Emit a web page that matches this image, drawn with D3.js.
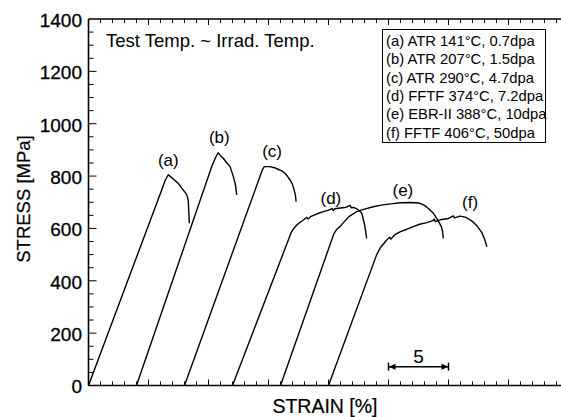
<!DOCTYPE html>
<html><head><meta charset="utf-8">
<script src="https://cdn.jsdelivr.net/npm/d3@7"></script>
<style>body{margin:0;background:#fff}svg{display:block}text{font-family:"Liberation Sans",Arial,Helvetica,sans-serif;fill:#000}</style>
</head><body>
<svg id="c" width="561" height="417"></svg>
<script>
// ---- data (strain %, stress MPa) ----
const curveIds = ["a","b","c","d","e","f"];
const curveA = [[0,0],[6.1,747],[6.4,785],[6.65,805],[6.9,795],[7.2,783],[7.48,772],[7.8,752],[8.12,734],[8.25,720],[8.32,702],[8.36,660],[8.4,620]];
const curveB = [[4,0],[10.3,840],[10.6,872],[10.8,889],[11.0,878],[11.23,868],[11.5,852],[11.8,836],[11.95,815],[12.07,798],[12.2,775],[12.27,759],[12.35,728]];
const curveC = [[8,0],[14.5,825],[14.65,836],[15.1,836],[15.5,832],[15.8,826],[16.1,820],[16.4,810],[16.6,798],[16.8,785],[17.0,768],[17.1,753],[17.25,725],[17.3,702]];
const curveD = [[12,0],[16.9,585],[17.1,600],[17.4,615],[17.9,632],[18.2,642],[18.3,636],[18.5,645],[19.0,655],[19.57,664],[20.0,670],[20.3,676],[20.4,668],[20.5,675],[21.0,678],[21.5,681],[21.8,688],[21.9,679],[22.1,680],[22.46,672],[22.77,658],[22.9,635],[23.04,607],[23.18,562]];
const curveE = [[16,0],[20.45,580],[20.7,597],[20.96,607],[21.3,625],[21.7,645],[22.35,664],[23.0,674],[23.73,683],[24.5,690],[25.2,694],[25.96,698],[26.8,699],[27.3,698],[27.6,696],[28.0,688],[28.3,677],[28.7,660],[29.0,639],[29.25,620],[29.4,607],[29.5,590],[29.57,562]];
const curveF = [[20,0],[24.0,498],[24.3,525],[24.85,556],[25.1,566],[25.2,559],[25.5,575],[26.0,588],[26.5,596],[27.0,606],[27.6,616],[28.2,622],[28.7,630],[28.8,636],[28.9,626],[29.3,633],[30.0,638],[30.4,648],[30.5,640],[30.96,647],[31.4,643],[31.7,636],[32.07,624],[32.4,608],[32.77,585],[33.0,560],[33.2,530]];
const curves = [curveA, curveB, curveC, curveD, curveE, curveF];
const legendLines = ["(a) ATR 141°C, 0.7dpa","(b) ATR 207°C, 1.5dpa","(c) ATR 290°C, 4.7dpa","(d) FFTF 374°C, 7.2dpa","(e) EBR-II 388°C, 10dpa","(f) FFTF 406°C, 50dpa"];
const yTickLabels = [0,200,400,600,800,1000,1200,1400];
const scaleBar = [25,30];
const scaleBarLabel = "5";
const noteText = "Test Temp. ~ Irrad. Temp.";
const xTitle = "STRAIN [%]";
const yTitle = "STRESS [MPa]";

// ---- layout ----
const svg = d3.select("#c");
const x = d3.scaleLinear().domain([0,40]).range([88.5,568.5]);
const y = d3.scaleLinear().domain([0,1400]).range([385.5,19]);
// label positions (strain, stress) for curve tags
const tagPos = [[6.65,838],[10.9,925],[15.3,872],[20.2,695],[26.2,725],[31.8,677]];

const g = svg.append("g");
g.append("line").attr("x1",x(0)).attr("x2",561).attr("y1",y(0)).attr("y2",y(0)).attr("stroke","#000").attr("stroke-width",1.6);
g.append("line").attr("x1",x(0)).attr("x2",561).attr("y1",y(1400)).attr("y2",y(1400)).attr("stroke","#000").attr("stroke-width",1.6);
g.append("line").attr("x1",x(0)).attr("x2",x(0)).attr("y1",y(0)).attr("y2",y(1400)).attr("stroke","#000").attr("stroke-width",1.6);

const xt = d3.range(1,40);
g.selectAll(".xb").data(xt).join("line").attr("x1",d=>x(d)).attr("x2",d=>x(d))
 .attr("y1",y(0)).attr("y2",d=>y(0)-(d%5===0?6:4)).attr("stroke","#000").attr("stroke-width",1);
g.selectAll(".xtp").data(xt).join("line").attr("x1",d=>x(d)).attr("x2",d=>x(d))
 .attr("y1",y(1400)).attr("y2",d=>y(1400)+(d%5===0?6:4)).attr("stroke","#000").attr("stroke-width",1);
const yt = d3.range(50,1400,50);
g.selectAll(".yt").data(yt).join("line").attr("x1",x(0)).attr("x2",d=>x(0)+(d%200===0?8:5))
 .attr("y1",d=>y(d)).attr("y2",d=>y(d)).attr("stroke","#000").attr("stroke-width",1);
g.selectAll(".yl").data(yTickLabels).join("text").attr("x",82).attr("y",d=>y(d)).attr("dy","0.42em")
 .attr("text-anchor","end").attr("font-size",19).attr("stroke","#000").attr("stroke-width",0.3).text(d=>d);

svg.append("text").attr("x",325).attr("y",413).attr("text-anchor","middle").attr("font-size",19.5).attr("stroke","#000").attr("stroke-width",0.2).text(xTitle);
svg.append("text").attr("transform","translate(30,199) rotate(-90)").attr("text-anchor","middle").attr("font-size",18.5).attr("stroke","#000").attr("stroke-width",0.2).text(yTitle);
svg.append("text").attr("x",106).attr("y",47).attr("font-size",18.5).text(noteText);

svg.append("rect").attr("x",382.5).attr("y",29.5).attr("width",163).attr("height",113).attr("fill","none").attr("stroke","#000").attr("stroke-width",1);
svg.selectAll(".lg").data(legendLines).join("text").attr("x",386).attr("y",(d,i)=>46+i*18.3)
 .attr("font-size",14.8).text(d=>d);

const line = d3.line().x(d=>x(d[0])).y(d=>y(d[1]));
svg.selectAll(".cv").data(curves).join("path").attr("d",line).attr("fill","none")
 .attr("stroke","#000").attr("stroke-width",1.4).attr("stroke-linejoin","round");
svg.selectAll(".tag").data(curveIds).join("text").attr("x",(d,i)=>x(tagPos[i][0])).attr("y",(d,i)=>y(tagPos[i][1]))
 .attr("text-anchor","middle").attr("font-size",17).text(d=>"("+d+")");

const sbY = y(72);
svg.append("line").attr("x1",x(scaleBar[0])).attr("x2",x(scaleBar[1])).attr("y1",sbY).attr("y2",sbY).attr("stroke","#000").attr("stroke-width",1.5);
scaleBar.forEach((v,i)=>{
  svg.append("line").attr("x1",x(v)).attr("x2",x(v)).attr("y1",sbY-4).attr("y2",sbY+4).attr("stroke","#000").attr("stroke-width",1.5);
  const dir = i===0?1:-1;
  svg.append("path").attr("d",`M${x(v)},${sbY}L${x(v)+dir*7},${sbY-3}L${x(v)+dir*7},${sbY+3}Z`).attr("fill","#000");
});
svg.append("text").attr("x",(x(scaleBar[0])+x(scaleBar[1]))/2).attr("y",sbY-4).attr("text-anchor","middle").attr("font-size",19).text(scaleBarLabel);
</script>
</body></html>
